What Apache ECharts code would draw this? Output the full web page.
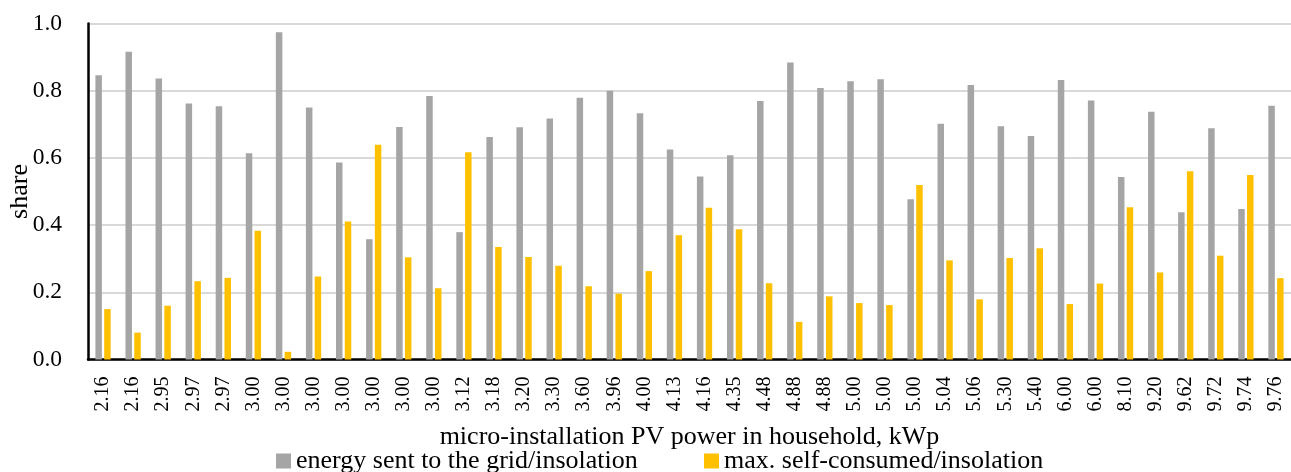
<!DOCTYPE html>
<html>
<head>
<meta charset="utf-8">
<script src="https://cdn.jsdelivr.net/npm/echarts@6/dist/echarts.min.js"></script>
<style>html,body{margin:0;padding:0;background:#fff}#c{width:1291px;height:472px}</style>
</head>
<body>
<div id="c"></div>
<script>
const categories = ['2.16','2.16','2.95','2.97','2.97','3.00','3.00','3.00','3.00','3.00','3.00','3.00','3.12','3.18','3.20','3.30','3.60','3.96','4.00','4.13','4.16','4.35','4.48','4.88','4.88','5.00','5.00','5.00','5.04','5.06','5.30','5.40','6.00','6.00','8.10','9.20','9.62','9.72','9.74','9.76'];
const gridEnergy = [0.846,0.916,0.836,0.762,0.754,0.614,0.974,0.750,0.586,0.358,0.692,0.784,0.379,0.662,0.691,0.717,0.779,0.800,0.733,0.625,0.545,0.608,0.769,0.884,0.808,0.828,0.834,0.477,0.702,0.817,0.694,0.665,0.832,0.771,0.543,0.737,0.438,0.688,0.448,0.755];
const selfConsumed = [0.150,0.080,0.160,0.233,0.243,0.383,0.023,0.247,0.411,0.639,0.304,0.212,0.617,0.335,0.305,0.279,0.218,0.196,0.263,0.370,0.452,0.388,0.227,0.112,0.188,0.168,0.162,0.519,0.295,0.179,0.302,0.331,0.165,0.226,0.453,0.259,0.560,0.309,0.549,0.242];
const yTicks = [0, 0.2, 0.4, 0.6, 0.8, 1.0];
const seriesNames = ['energy sent to the grid/insolation', 'max. self-consumed/insolation'];
const xTitle = 'micro-installation PV power in household, kWp';
const yTitle = 'share';

const FONT = '"Liberation Serif", "DejaVu Serif", serif';
const chart = echarts.init(document.getElementById('c'), null, {renderer: 'canvas'});
const legendText = {fontFamily: FONT, fontSize: 26, lineHeight: 26, color: '#000'};
chart.setOption({
  animation: false,
  backgroundColor: '#fff',
  grid: {left: 88, right: 0, top: 23.5, bottom: 112.5, containLabel: false, outerBoundsMode: 'none'},
  legend: [
    {data: [seriesNames[0]], left: 276, top: 448, itemWidth: 15, itemHeight: 15, itemGap: 0,
     padding: 0, icon: 'rect', textStyle: legendText},
    {data: [seriesNames[1]], left: 704, top: 448, itemWidth: 15, itemHeight: 15, itemGap: 0,
     padding: 0, icon: 'rect', textStyle: legendText}
  ],
  xAxis: {
    type: 'category', data: categories,
    name: xTitle, nameLocation: 'middle', nameGap: 65, nameMoveOverlap: false,
    nameTextStyle: {fontFamily: FONT, fontSize: 26, lineHeight: 26, color: '#000'},
    axisLine: {lineStyle: {color: '#000', width: 2.5}},
    axisTick: {show: false},
    axisLabel: {interval: 0, rotate: 90, margin: 17, fontFamily: FONT, fontSize: 20, color: '#000'}
  },
  yAxis: {
    type: 'value', min: 0, max: 1, interval: 0.2,
    name: yTitle, nameLocation: 'middle', nameGap: 55, nameMoveOverlap: false,
    nameTextStyle: {fontFamily: FONT, fontSize: 26, color: '#000'},
    axisLine: {show: true, lineStyle: {color: '#000', width: 2.5}},
    axisTick: {show: false},
    splitLine: {lineStyle: {color: '#D9D9D9', width: 2}},
    axisLabel: {margin: 26, fontFamily: FONT, fontSize: 23.5, color: '#000',
      formatter: v => yTicks.includes(Math.round(v*10)/10) ? v.toFixed(1) : ''}
  },
  series: [
    {name: seriesNames[0], type: 'bar', data: gridEnergy, barWidth: 6.5, barGap: '35%',
     itemStyle: {color: '#A5A5A5'}},
    {name: seriesNames[1], type: 'bar', data: selfConsumed, barWidth: 6.5, barGap: '35%',
     itemStyle: {color: '#FFC000'}}
  ]
});
</script>
</body>
</html>
